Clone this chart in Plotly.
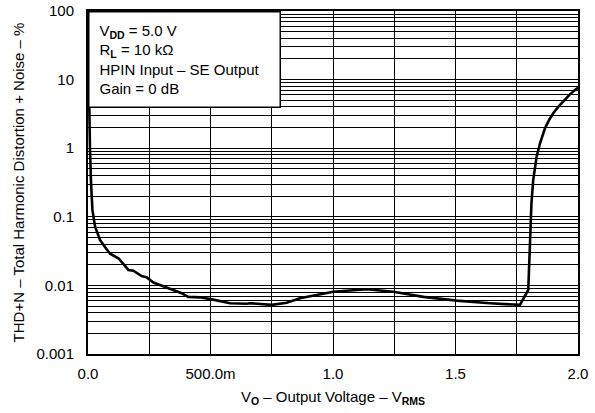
import plotly.graph_objects as go

# Output voltage (V RMS)
vo = [0.002, 0.004, 0.008, 0.012, 0.018, 0.029, 0.049, 0.070, 0.090, 0.124, 0.131,
      0.165, 0.185, 0.219, 0.240, 0.267, 0.321, 0.382, 0.409, 0.457, 0.511, 0.580,
      0.648, 0.661, 0.750, 0.811, 0.865, 0.933, 1.001, 1.138, 1.192, 1.246, 1.369,
      1.505, 1.641, 1.763, 1.797, 1.801, 1.805, 1.810, 1.817, 1.831, 1.845, 1.865,
      1.882, 1.899, 1.920, 1.940, 1.967, 1.995, 2.000]
# THD+N (%)
thdn = [20.0, 4.0, 1.05, 0.34, 0.126, 0.072, 0.046, 0.036, 0.029, 0.0248, 0.0234,
        0.0168, 0.0164, 0.0137, 0.0131, 0.0110, 0.0094, 0.0077, 0.0068, 0.0067, 0.0062, 0.0055,
        0.0054, 0.0055, 0.0052, 0.0056, 0.0065, 0.0072, 0.0081, 0.0088, 0.0084, 0.0081, 0.0068,
        0.0060, 0.0055, 0.0052, 0.0086, 0.019, 0.050, 0.157, 0.34, 0.75, 1.18, 1.95,
        2.58, 3.23, 4.03, 4.76, 6.1, 7.4, 7.6]

x_tickvals = [0.0, 0.5, 1.0, 1.5, 2.0]
x_ticktext = ["0.0", "500.0m", "1.0", "1.5", "2.0"]
y_tickvals = [0.001, 0.01, 0.1, 1, 10, 100]
y_ticktext = ["0.001", "0.01", "0.1", "1", "10", "100"]

FONT = "Liberation Sans, Arial, sans-serif"
FS = 15

fig = go.Figure()
fig.add_trace(go.Scatter(x=vo, y=thdn, mode="lines",
                         line=dict(color="black", width=2.6), showlegend=False))

fig.update_layout(
    width=595, height=413,
    margin=dict(l=88, r=17, t=11, b=59),
    paper_bgcolor="white", plot_bgcolor="white",
    font=dict(family=FONT, size=FS, color="black"),
    xaxis=dict(
        range=[0, 2.0], tickvals=x_tickvals, ticktext=x_ticktext,
        showgrid=True, gridcolor="black", gridwidth=1,
        minor=dict(dtick=0.25, showgrid=True, gridcolor="black", gridwidth=1),
        showline=True, linecolor="black", linewidth=2, mirror=True,
        ticks="", zeroline=False, ticklabelstandoff=5, automargin=False,
        title=dict(text="V<sub><b>O</b></sub> – Output Voltage – V<sub><b>RMS</b></sub>",
                   font=dict(size=FS), standoff=10),
    ),
    yaxis=dict(
        type="log", range=[-3, 2], tickvals=y_tickvals, ticktext=y_ticktext,
        showgrid=True, gridcolor="black", gridwidth=1,
        minor=dict(dtick="D1", showgrid=True, gridcolor="black", gridwidth=1),
        showline=True, linecolor="black", linewidth=2, mirror=True,
        ticks="", zeroline=False, ticklabelstandoff=9, automargin=False,
        title=dict(text="THD+N – Total Harmonic Distortion + Noise – %",
                   font=dict(size=FS), standoff=8),
    ),
)

fig.add_annotation(
    xref="paper", yref="paper", x=0, y=1, xanchor="left", yanchor="top",
    text="V<sub><b>DD</b></sub> = 5.0 V<br>R<sub><b>L</b></sub> = 10 kΩ<br>"
         "HPIN Input – SE Output<br>Gain = 0 dB",
    align="left", showarrow=False,
    font=dict(family=FONT, size=FS, color="black"),
    bgcolor="white", bordercolor="black", borderwidth=1.5, borderpad=10,
    width=170, height=74,
)

fig.write_html("out.html", config={"displayModeBar": False},
               post_script="document.body.style.margin='0';document.body.style.overflow='hidden';")
